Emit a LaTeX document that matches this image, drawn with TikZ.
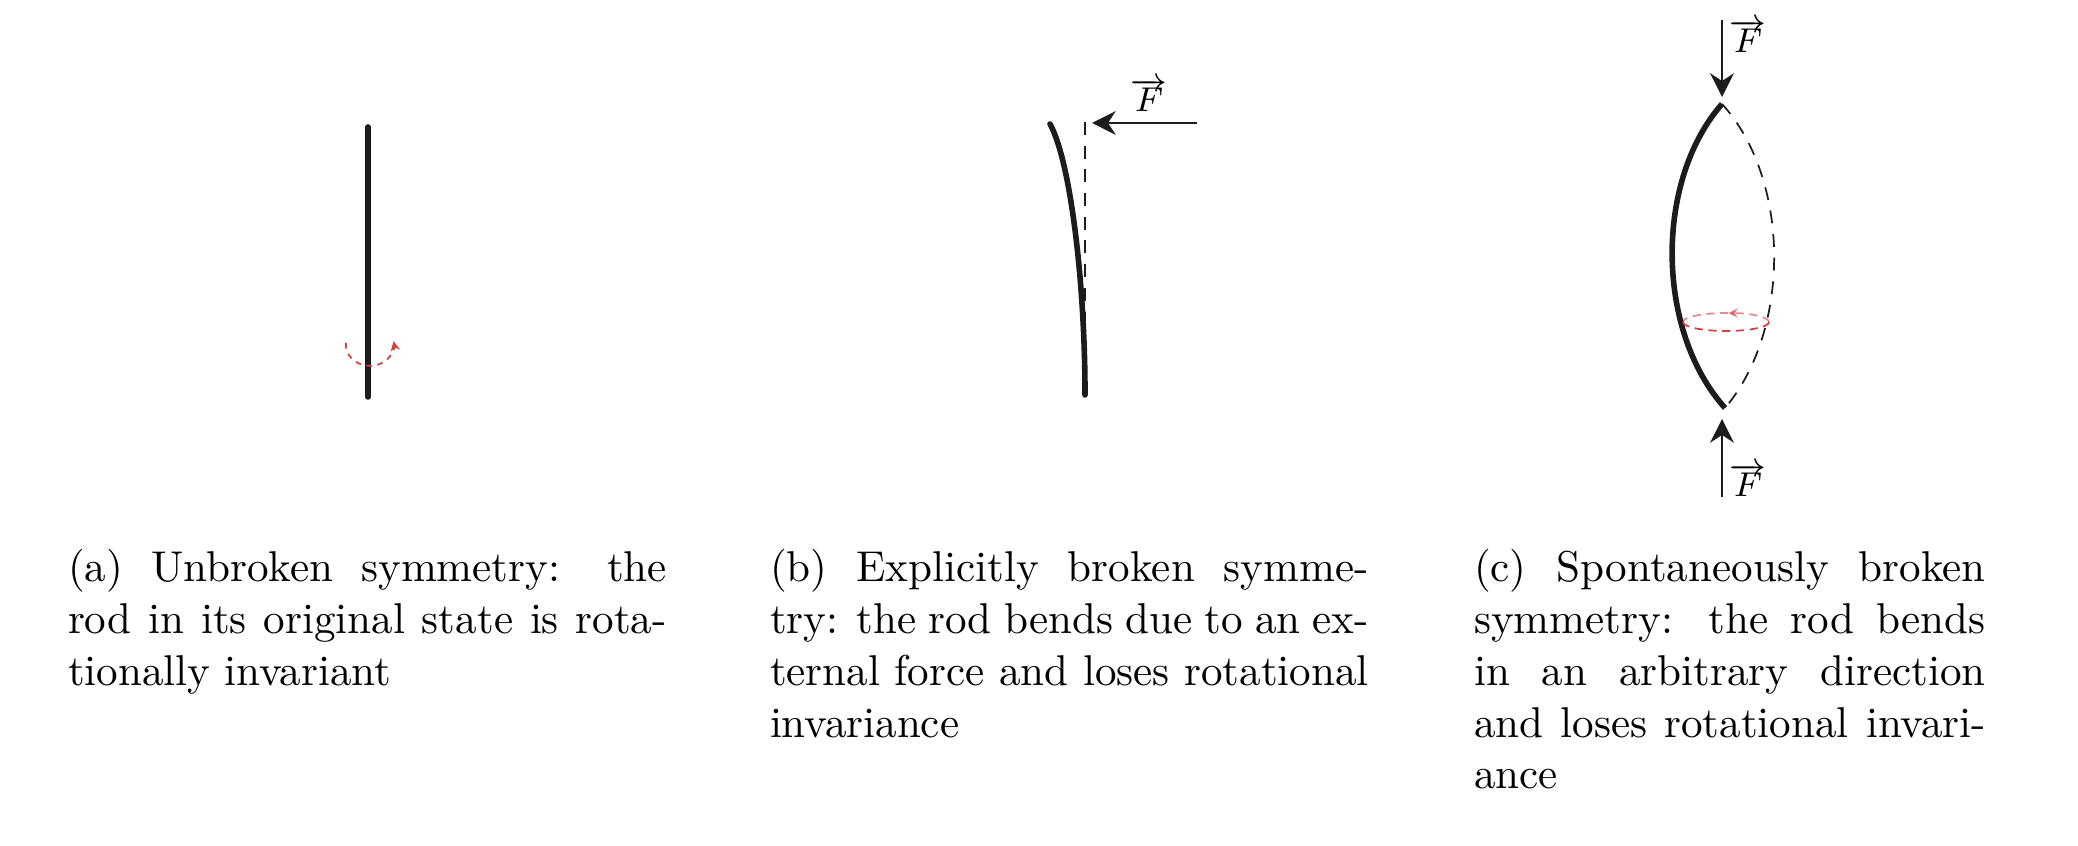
\documentclass[tikz,border=0pt]{standalone}
\usetikzlibrary{arrows.meta}
\definecolor{rotred}{RGB}{212,62,62}
\definecolor{rodblack}{RGB}{28,28,28}
\begin{document}
\begin{tikzpicture}[x=0.2321pt,y=-0.2321pt,
  rod/.style={line width=1.3pt, line cap=round, draw=rodblack},
  force/.style={line width=0.6pt, draw=rodblack, -{Stealth[length=5.5pt,width=5.5pt,inset=1.8pt]}},
  guide/.style={line width=0.4pt, draw=rodblack, dash pattern=on 3pt off 2.5pt},
  rota/.style={line width=0.4pt, draw=rotred, dash pattern=on 1.3pt off 1.3pt},
  rotc/.style={line width=0.4pt, draw=rotred, dash pattern=on 1.9pt off 1.3pt},
  redtip/.style={-{Stealth[length=2.2pt,width=2.2pt]}},
  capline/.style={anchor=base west, inner sep=0pt, outer sep=0pt},
  flabel/.style={inner sep=0pt, font=\footnotesize}]
\useasboundingbox (0,0) rectangle (2078,846);

% ---------- (a) ----------
\coordinate (a1) at (368,127);
\coordinate (a2) at (368,397);
\draw[rod] (a1) -- (a2);
\coordinate (ar) at (346,343);
\draw[rota, redtip] (ar) arc[start angle=175, end angle=370, x radius=5.57pt, y radius=4.87pt];

% ---------- (b) ----------
\coordinate (b0) at (1085,122);
\coordinate (b1) at (1085,397);
\draw[guide] (b0) -- (b1);
\coordinate (btop) at (1050,124);
\coordinate (bbot) at (1085,395);
\draw[rod] (bbot) .. controls (1085,280) and (1070,160) .. (btop);
\coordinate (bF0) at (1197,123);
\coordinate (bF1) at (1092,123);
\draw[force] (bF0) -- (bF1);
\node[flabel] (bF) at (1149,95) {$\overrightarrow{F}$};

% ---------- (c) ----------
\coordinate (ct) at (1722,104);
\coordinate (cb) at (1725,408);
\draw[guide] (ct) .. controls (1791,180) and (1791,330) .. (cb);
\draw[rod, line cap=butt] (ct) .. controls (1655,180) and (1655,330) .. (cb);
\coordinate (ce) at (1726,322);
\coordinate (ceL) at ([xshift=-9.98pt]ce);
\coordinate (ceR) at ([xshift=9.98pt]ce);
\draw[rotc, opacity=0.6, redtip] (ceR) arc[start angle=0, end angle=87, x radius=9.98pt, y radius=2.09pt] coordinate (cem);
\draw[rotc, opacity=0.6] (cem) arc[start angle=87, end angle=180, x radius=9.98pt, y radius=2.09pt];
\draw[rotc] (ceL) arc[start angle=180, end angle=360, x radius=9.98pt, y radius=2.09pt];
\coordinate (cT0) at (1722,20);
\coordinate (cT1) at (1722,97);
\draw[force] (cT0) -- (cT1);
\node[flabel] (cFt) at (1748,36) {$\overrightarrow{F}$};
\coordinate (cB0) at (1722,497);
\coordinate (cB1) at (1722,419);
\draw[force] (cB0) -- (cB1);
\node[flabel] (cFb) at (1748,480) {$\overrightarrow{F}$};

% ---------- captions ----------
\node[capline] (ca1) at (68,582) {\hbox to 139pt{(a) Unbroken symmetry: the}};
\node[capline] (ca2) at (68,634) {\hbox to 139pt{rod in its original state is rota-}};
\node[capline] (ca3) at (68,685) {tionally invariant};

\node[capline] (cb1) at (770,582) {\hbox to 139pt{(b) Explicitly broken symme-}};
\node[capline] (cb2) at (770,634) {\hbox to 139pt{try: the rod bends due to an ex-}};
\node[capline] (cb3) at (770,685) {\hbox to 139pt{ternal force and loses rotational}};
\node[capline] (cb4) at (770,737) {invariance};

\node[capline] (cc1) at (1474,582) {\hbox to 118.8pt{(c) Spontaneously broken}};
\node[capline] (cc2) at (1474,634) {\hbox to 118.8pt{symmetry: the rod bends}};
\node[capline] (cc3) at (1474,685) {\hbox to 118.8pt{in an arbitrary direction}};
\node[capline] (cc4) at (1474,737) {\hbox to 118.8pt{and loses rotational invari-}};
\node[capline] (cc5) at (1474,789) {ance};
\end{tikzpicture}
\end{document}
